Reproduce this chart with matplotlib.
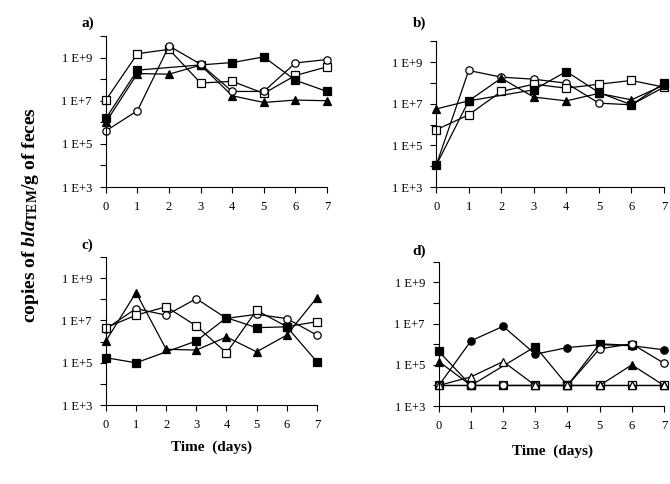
import numpy as np
import matplotlib.pyplot as plt

plt.rcParams['font.family'] = 'Liberation Serif'
plt.rcParams['mathtext.fontset'] = 'custom'
plt.rcParams['mathtext.rm'] = 'Liberation Serif:bold'
plt.rcParams['mathtext.it'] = 'Liberation Serif:italic:bold'

days = np.arange(8)
nan = np.nan

# log10 copies / g feces
a_open_sq = [7.03, 9.18, 9.38, 7.82, 7.90, 7.34, 8.17, 8.57]
a_open_ci = [5.60, 6.54, 9.54, 8.69, 7.43, 7.43, 8.75, 8.91]
a_fill_sq = [6.18, 8.42, nan, 8.66, 8.77, 9.03, 7.95, 7.43]
a_fill_tr = [6.00, 8.26, 8.23, 8.65, 7.23, 6.92, 7.03, 7.00]

b_open_sq = [5.75, 6.47, 7.59, 7.94, 7.75, 7.94, 8.12, 7.80]
b_open_ci = [4.04, 8.60, 8.28, 8.18, 7.99, 7.03, 6.95, 7.80]
b_fill_sq = [4.04, 7.14, nan, 7.67, 8.55, 7.54, 6.95, 7.99]
b_fill_tr = [6.75, 7.14, 8.23, 7.32, 7.14, 7.50, 7.19, 7.90]

c_open_sq = [6.66, 7.25, 7.65, 6.74, 5.47, 7.48, 6.71, 6.94]
c_open_ci = [6.60, 7.56, 7.25, 8.03, 7.10, 7.29, 7.09, 6.31]
c_fill_sq = [5.24, 5.00, nan, 6.03, 7.13, 6.66, 6.70, 5.05]
c_fill_tr = [6.03, 8.32, 5.64, 5.60, 6.22, 5.52, 6.31, 8.08]

d_open_sq = [4.0, 4.0, 4.0, 4.0, 4.0, 4.0, 4.0, 4.0]
d_open_ci = [4.0, 4.0, 4.0, 4.0, 4.0, 5.78, 6.02, 5.08]
d_open_tr = [4.0, 4.42, 5.16, 4.0, 4.0, 4.0, 4.0, 4.0]
d_fill_sq = [5.65, 4.0, nan, 5.89, 4.0, 6.02, 5.95, nan]
d_fill_tr = [5.16, 4.0, 4.0, 4.0, 4.0, 4.0, 5.0, 4.0]
d_fill_ci = [4.0, 6.17, 6.87, 5.52, 5.84, 5.98, 5.93, 5.73]

styles = {
    'open_sq': dict(marker='s', mfc='white'),
    'open_ci': dict(marker='o', mfc='white'),
    'open_tr': dict(marker='^', mfc='white'),
    'fill_sq': dict(marker='s', mfc='black'),
    'fill_tr': dict(marker='^', mfc='black'),
    'fill_ci': dict(marker='o', mfc='black'),
}

panels = [
    ('a)', [0.158, 0.6136, 0.330, 0.312], (0.122, 0.952),
     [('open_sq', a_open_sq), ('fill_sq', a_fill_sq), ('fill_tr', a_fill_tr), ('open_ci', a_open_ci)]),
    ('b)', [0.651, 0.6136, 0.340, 0.301], (0.616, 0.952),
     [('open_ci', b_open_ci), ('open_sq', b_open_sq), ('fill_tr', b_fill_tr), ('fill_sq', b_fill_sq)]),
    ('c)', [0.158, 0.163, 0.315, 0.306], (0.122, 0.494),
     [('open_ci', c_open_ci), ('open_sq', c_open_sq), ('fill_sq', c_fill_sq), ('fill_tr', c_fill_tr)]),
    ('d)', [0.655, 0.161, 0.336, 0.298], (0.616, 0.481),
     [('open_sq', d_open_sq), ('fill_sq', d_fill_sq), ('fill_ci', d_fill_ci),
      ('fill_tr', d_fill_tr), ('open_ci', d_open_ci), ('open_tr', d_open_tr)]),
]

fig = plt.figure(figsize=(6.7, 4.84), dpi=100)

for label, rect, lpos, series in panels:
    ax = fig.add_axes(rect)
    for key, vals in series:
        v = np.array(vals, dtype=float)
        ok = ~np.isnan(v)
        ax.plot(days[ok], 10 ** v[ok], color='black', lw=0.9, mec='black',
                ms=5.3, mew=0.9, clip_on=False, **styles[key])
    ax.set_yscale('log')
    ax.set_ylim(1e3, 1e10)
    ax.set_xlim(0, 7)
    ax.set_xticks(days)
    ax.set_yticks([10.0 ** k for k in range(3, 11)])
    ax.set_yticklabels(['1 E+%d' % k if k % 2 == 1 else '' for k in range(3, 11)])
    ax.yaxis.set_minor_locator(plt.NullLocator())
    ax.tick_params(labelsize=9, length=4, width=0.8, direction='out', pad=6)
    for s in ['top', 'right']:
        ax.spines[s].set_visible(False)
    fig.text(lpos[0], lpos[1], label, fontsize=11, fontweight='bold', ha='left', va='center')

fig.text(0.045, 0.555, r'copies of $\mathit{bla}_{\mathrm{TEM}}$/g of feces',
         rotation=90, fontsize=14, fontweight='bold', ha='center', va='center')
fig.text(0.315, 0.075, 'Time  (days)', fontsize=11, fontweight='bold', ha='center', va='center')
fig.text(0.825, 0.068, 'Time  (days)', fontsize=11, fontweight='bold', ha='center', va='center')

fig.savefig('out.png', dpi=100)
